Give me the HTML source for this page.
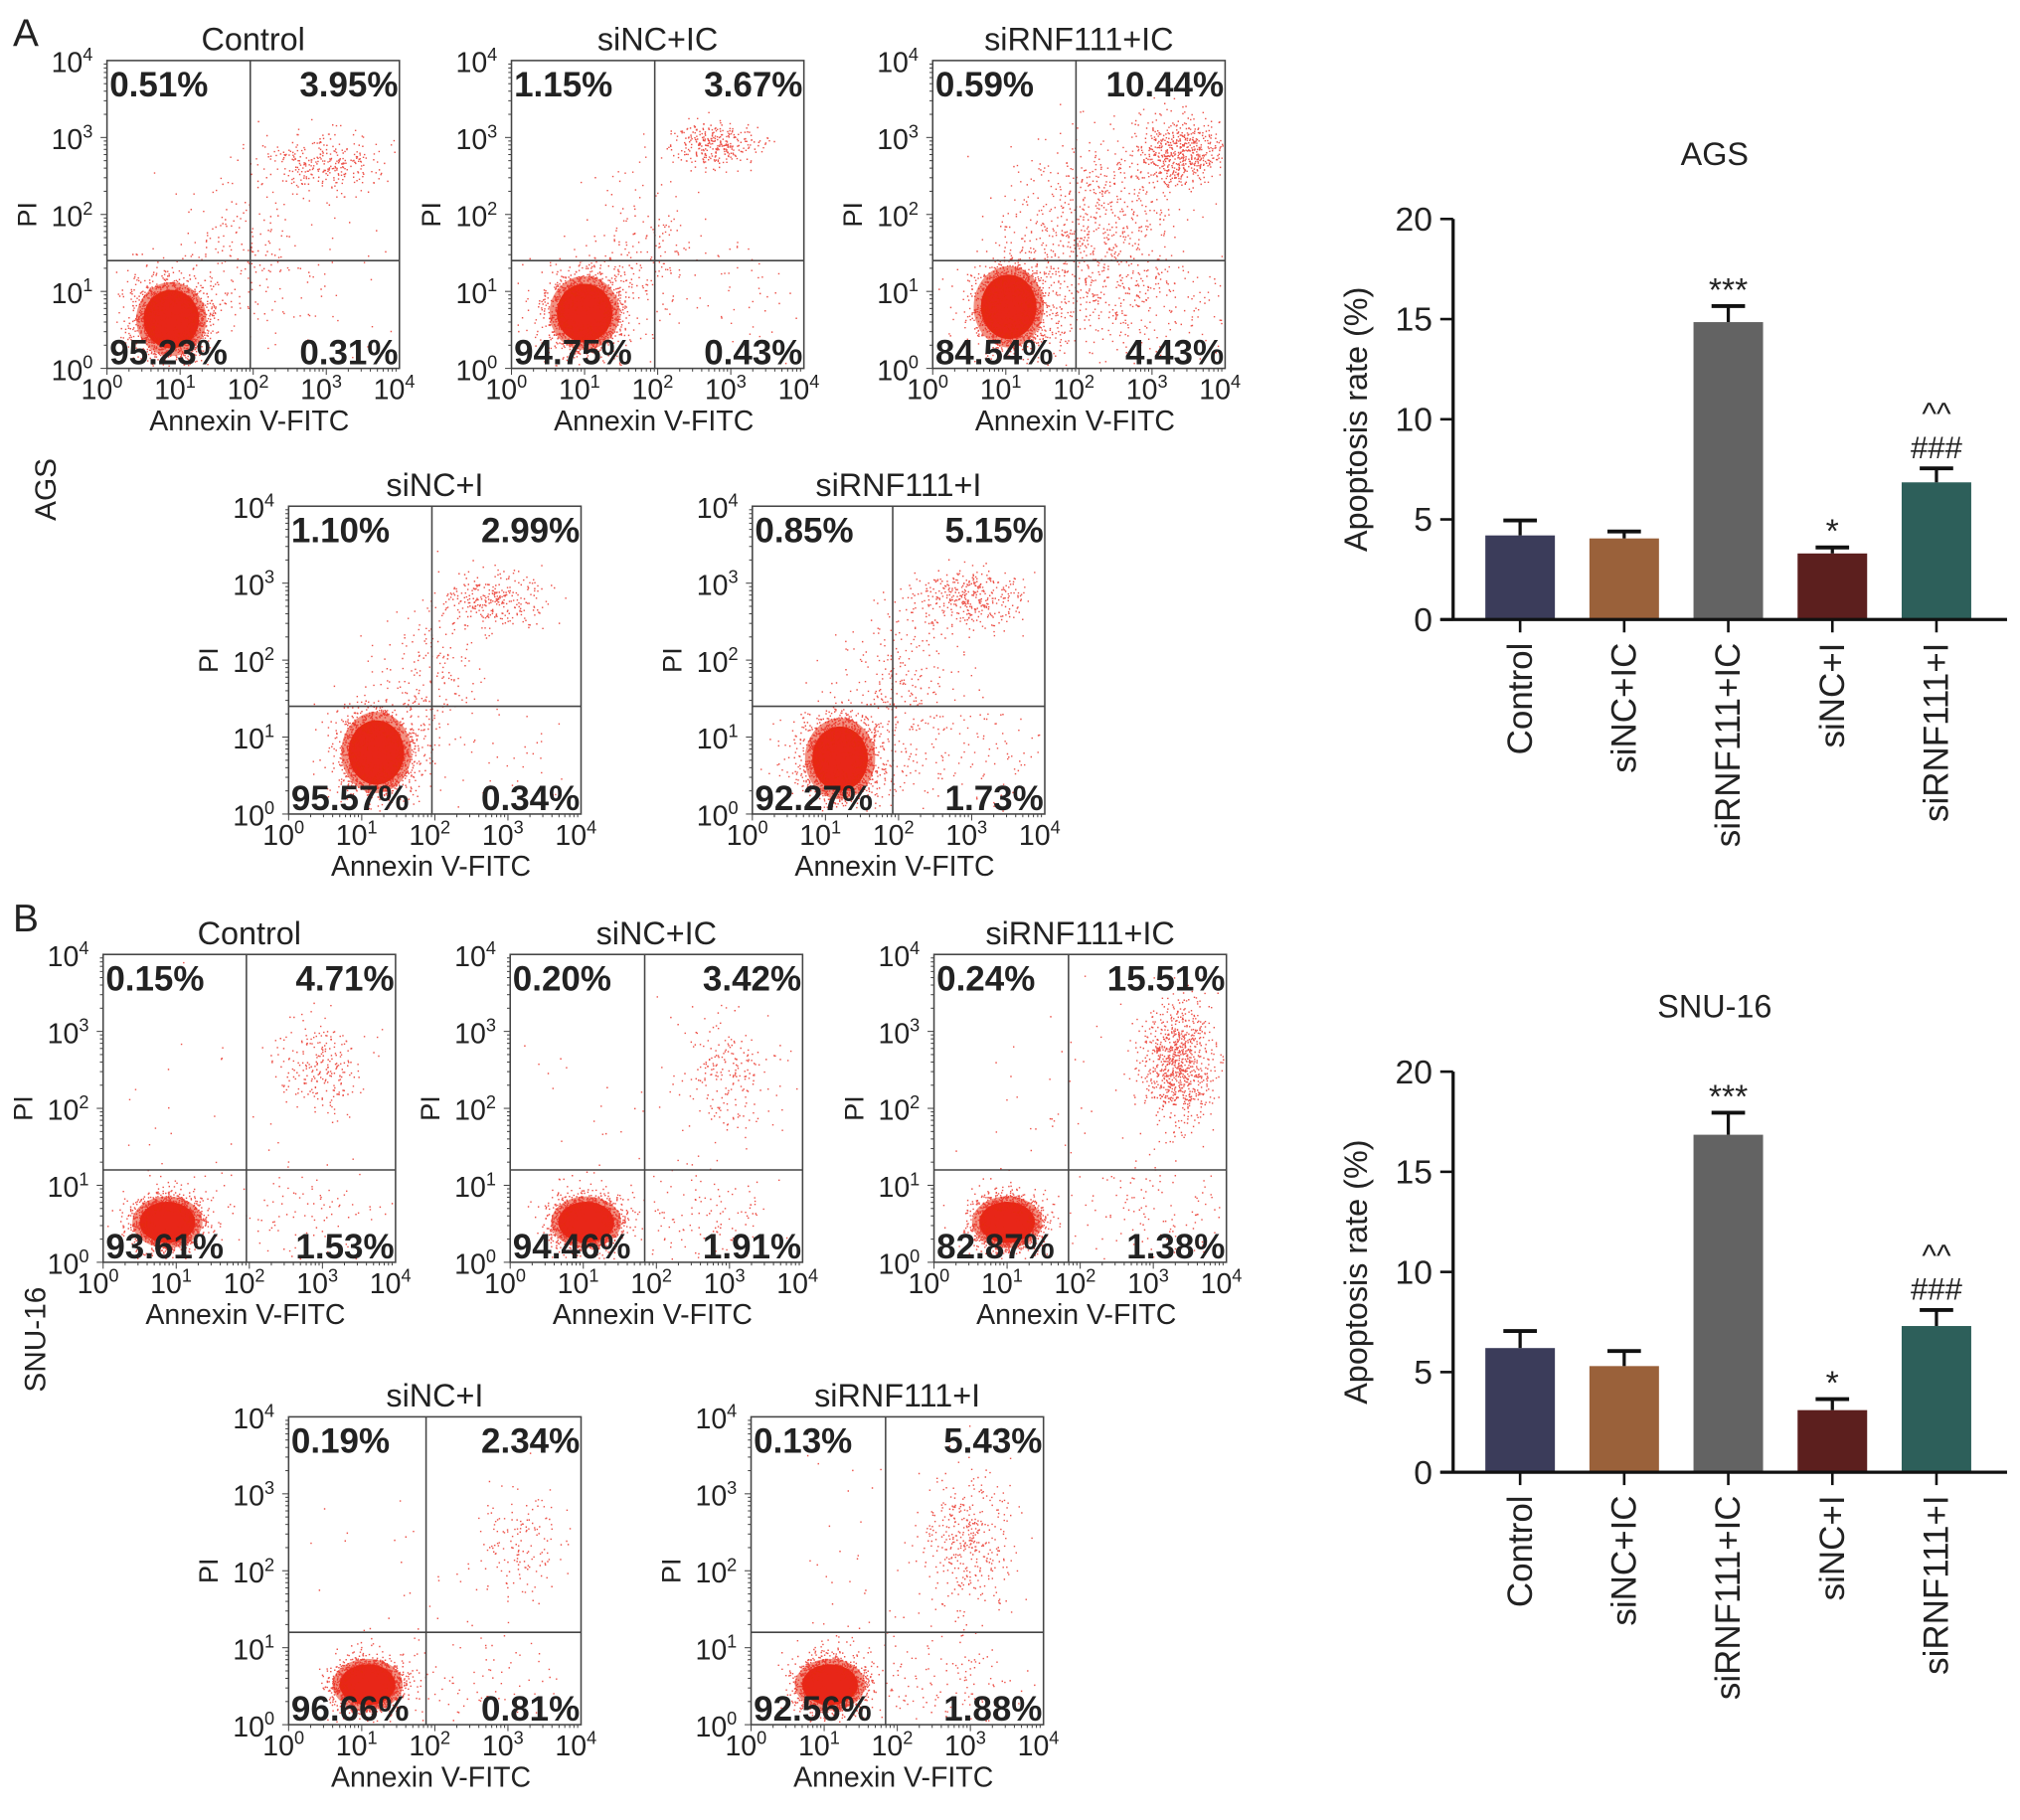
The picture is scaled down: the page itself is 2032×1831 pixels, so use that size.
<!DOCTYPE html>
<html><head><meta charset="utf-8"><style>
html,body{margin:0;padding:0;background:#fff}
svg{display:block}
text{font-family:"Liberation Sans",Arial,sans-serif;fill:#222}
</style></head><body>
<svg id="fig" width="2032" height="1831" viewBox="0 0 1568 1413" xmlns="http://www.w3.org/2000/svg">
<text x="10" y="36" font-size="30">A</text>
<text x="10" y="723" font-size="30">B</text>
<text transform="translate(43,380) rotate(-90)" font-size="23" text-anchor="middle">AGS</text>
<text transform="translate(35,1040) rotate(-90)" font-size="23" text-anchor="middle">SNU-16</text>
<g id="flow"></g>
<g id="bars"></g>
</svg>
<script>
// ---- Bar chart data ----
const categories = ["Control","siNC+IC","siRNF111+IC","siNC+I","siRNF111+I"];
const agsValues = [4.2, 4.05, 14.85, 3.3, 6.85];
const agsErrors = [0.75, 0.35, 0.8, 0.3, 0.7];
const snuValues = [6.2, 5.3, 16.85, 3.1, 7.3];
const snuErrors = [0.85, 0.75, 1.1, 0.55, 0.8];
const sigLabels = [[],[],["***"],["*"],["###","^^"]];
const yTicks = [0,5,10,15,20];
const barColors = ["#3b3c5a","#9a613a","#636363","#5c1f1e","#2d5f5a"];

// ---- Flow data ----
const flowTitles = ["Control","siNC+IC","siRNF111+IC","siNC+I","siRNF111+I"];
const agsPcts = [["0.51%","3.95%","95.23%","0.31%"],["1.15%","3.67%","94.75%","0.43%"],["0.59%","10.44%","84.54%","4.43%"],["1.10%","2.99%","95.57%","0.34%"],["0.85%","5.15%","92.27%","1.73%"]];
const snuPcts = [["0.15%","4.71%","93.61%","1.53%"],["0.20%","3.42%","94.46%","1.91%"],["0.24%","15.51%","82.87%","1.38%"],["0.19%","2.34%","96.66%","0.81%"],["0.13%","5.43%","92.56%","1.88%"]];

const NS="http://www.w3.org/2000/svg";
function mk(tag,attrs,parent){const e=document.createElementNS(NS,tag);for(const k in attrs)e.setAttribute(k,attrs[k]);parent.appendChild(e);return e;}
let seed=12345;
function rnd(){seed=(seed*1103515245+12345)%2147483648;return seed/2147483648;}
function gauss(){let u=rnd()||1e-6,v=rnd();return Math.sqrt(-2*Math.log(u))*Math.cos(2*Math.PI*v);}

const flowG=document.getElementById('flow');
function panel(x,y,title,vq,hq,pcts,clusters,i,prefix){
  const w=227,h=239;
  const g=mk('g',{},flowG);
  
  
  const t=mk('text',{x:x+w/2,y:y-8,'font-size':25,'text-anchor':'middle'},g);t.textContent=title;
  
  
  const dots=mk('g',{fill:'#e8261a'},g);
  
  
  const m=clusters[0];
  mk('ellipse',{cx:x+m[0]*w,cy:y+m[1]*h,rx:m[2]*w*2.4,ry:m[3]*h*2.4,fill:'#e8361c','fill-opacity':0.55},dots);
  mk('ellipse',{cx:x+m[0]*w,cy:y+m[1]*h,rx:m[2]*w*1.9,ry:m[3]*h*1.9,fill:'#e62a10'},dots);
  let s='';
  clusters.forEach(c=>{
    for(let k=0;k<c[4];k++){
      let px=c[0]+gauss()*c[2], py=c[1]+gauss()*c[3];
      if(px<0.01||px>0.99||py<0.01||py>0.99)continue;
      s+=`M${(x+px*w).toFixed(1)} ${(y+py*h).toFixed(1)}h1.1v1.1h-1.1z`;
    }
  });
  mk('path',{d:s,'fill-opacity':0.8},dots);
  const b=mk('rect',{x:x,y:y,width:w,height:h,fill:'none',stroke:'#444','stroke-width':1.2},g);
  
  
  mk('line',{x1:x+vq*w,x2:x+vq*w,y1:y,y2:y+h,stroke:'#444','stroke-width':1.2},g);
  mk('line',{x1:x,x2:x+w,y1:y+hq*h,y2:y+hq*h,stroke:'#444','stroke-width':1.2},g);
  for(let d=0;d<4;d++){for(let m2=1;m2<=9;m2++){
    const f=(d+Math.log10(m2))/4;
    const L=m2===1?5:2.5;
    mk('line',{x1:x+f*w,x2:x+f*w,y1:y+h,y2:y+h+L,stroke:'#444','stroke-width':0.8},g);
    mk('line',{x1:x,x2:x-L,y1:y+h-f*h,y2:y+h-f*h,stroke:'#444','stroke-width':0.8},g);
  }}
  for(let d=0;d<=4;d++){
    const tx=mk('text',{x:x+d/4*w-4,y:y+h+24,'font-size':22,'text-anchor':'middle'},g);
    tx.innerHTML='10<tspan dy="-9" font-size="14">'+d+'</tspan>';
    const ty=mk('text',{x:x-11,y:y+h-d/4*h+9,'font-size':22,'text-anchor':'end'},g);
    ty.innerHTML='10<tspan dy="-9" font-size="14">'+d+'</tspan>';
  }
  const xl=mk('text',{x:x+w/2-3,y:y+h+48,'font-size':22,'text-anchor':'middle'},g);xl.textContent='Annexin V-FITC';
  
  
  const yl=mk('text',{transform:`translate(${x-55},${y+h/2}) rotate(-90)`,'font-size':21,'text-anchor':'middle'},g);yl.textContent='PI';
  
  
  const pos=[[x+2,y+28,'start'],[x+w-1,y+28,'end'],[x+2,y+h-3,'start'],[x+w-1,y+h-3,'end']];
  pos.forEach((p,k)=>{const q=mk('text',{x:p[0],y:p[1],'font-size':27,'font-weight':'bold','text-anchor':p[2]},g);q.textContent=pcts[k];
    
    });
}
const agsPos=[[83,47],[397,47],[724,47],[224,393],[584,393]];
const snuPos=[[80,741],[396,741],[725,741],[224,1100],[583,1100]];
const agsV=[0.49,0.49,0.49,0.49,0.48], agsH=[0.65,0.65,0.65,0.65,0.65];
const snuV=[0.49,0.46,0.46,0.47,0.46], snuH=[0.7,0.7,0.7,0.7,0.7];
const agsClusters=[
 [[0.22,0.84,0.05,0.05,2600],[0.22,0.84,0.09,0.09,500],[0.45,0.6,0.12,0.12,180],[0.74,0.33,0.1,0.05,320],[0.75,0.75,0.15,0.1,40]],
 [[0.25,0.82,0.05,0.05,2600],[0.25,0.82,0.09,0.09,500],[0.45,0.6,0.1,0.12,180],[0.7,0.27,0.08,0.035,320],[0.75,0.75,0.15,0.1,50]],
 [[0.26,0.8,0.05,0.055,2300],[0.3,0.78,0.1,0.1,500],[0.55,0.55,0.13,0.16,700],[0.84,0.3,0.08,0.06,600],[0.75,0.8,0.15,0.1,200]],
 [[0.3,0.8,0.05,0.055,2600],[0.3,0.8,0.09,0.09,500],[0.5,0.55,0.1,0.12,180],[0.7,0.3,0.09,0.045,300],[0.75,0.8,0.15,0.1,40]],
 [[0.3,0.82,0.05,0.055,2600],[0.3,0.82,0.09,0.09,600],[0.5,0.55,0.1,0.13,250],[0.75,0.3,0.09,0.05,380],[0.75,0.8,0.15,0.1,120]]];
const snuClusters=[
 [[0.22,0.87,0.05,0.035,2500],[0.22,0.87,0.07,0.06,400],[0.74,0.35,0.07,0.08,250],[0.65,0.85,0.15,0.1,120],[0.35,0.5,0.15,0.2,25]],
 [[0.26,0.87,0.05,0.035,2500],[0.26,0.87,0.07,0.06,400],[0.74,0.38,0.08,0.09,220],[0.65,0.85,0.15,0.1,150],[0.35,0.5,0.15,0.2,25]],
 [[0.25,0.87,0.05,0.035,2500],[0.25,0.87,0.07,0.06,400],[0.83,0.35,0.06,0.1,900],[0.75,0.85,0.12,0.1,120],[0.45,0.5,0.15,0.2,40]],
 [[0.27,0.87,0.05,0.035,2500],[0.27,0.87,0.07,0.06,400],[0.78,0.42,0.07,0.1,160],[0.65,0.85,0.15,0.1,90],[0.35,0.5,0.15,0.2,20]],
 [[0.27,0.87,0.05,0.035,2500],[0.27,0.87,0.07,0.06,400],[0.74,0.4,0.08,0.11,400],[0.65,0.85,0.15,0.1,150],[0.35,0.5,0.15,0.2,30]]];
for(let i=0;i<5;i++){
  panel(agsPos[i][0],agsPos[i][1],flowTitles[i],agsV[i],agsH[i],agsPcts[i],agsClusters[i],i,'ags');
  panel(snuPos[i][0],snuPos[i][1],flowTitles[i],snuV[i],snuH[i],snuPcts[i],snuClusters[i],i,'snu');
}

// ---- Bar charts ----
const barsG=document.getElementById('bars');
function barChart(title,vals,errs,y0,prefix){
  const ax=1128, y20=y0-311, xEnd=1558;
  const yS=v=>y0-(v/20)*(y0-y20);
  const xC=i=>1180+i*80.8;
  const g=mk('g',{},barsG);
  
  
  const t=mk('text',{x:1331,y:y20-42,'font-size':25,'text-anchor':'middle'},g);t.textContent=title;
  
  
  vals.forEach((v,i)=>{
    const r=mk('rect',{x:xC(i)-27,y:yS(v),width:54,height:y0-yS(v),fill:barColors[i]},g);
    
    
    const et=yS(v+errs[i]);
    mk('line',{x1:xC(i),x2:xC(i),y1:yS(v),y2:et,stroke:'#111','stroke-width':2.5},g);
    mk('line',{x1:xC(i)-13,x2:xC(i)+13,y1:et,y2:et,stroke:'#111','stroke-width':3},g);
    sigLabels[i].forEach((s,k)=>{
      const star=s[0]==='*';
      const q=mk('text',{x:xC(i),y:star?et+8:et-8-k*26,'font-size':star?26:24,'text-anchor':'middle'},g);
      if(star){q.setAttribute('dy','-12');}
      q.textContent=s;
      
      
    });
    mk('line',{x1:xC(i),x2:xC(i),y1:y0,y2:y0+10,stroke:'#111','stroke-width':2},g);
    const cl=mk('text',{transform:`translate(${xC(i)+9},${y0+18}) rotate(-90)`,'font-size':27,'text-anchor':'end'},g);
    cl.textContent=categories[i];
    
    
  });
  mk('line',{x1:ax,x2:ax,y1:y20,y2:y0,stroke:'#111','stroke-width':2.5},g);
  mk('line',{x1:ax-10,x2:xEnd,y1:y0,y2:y0,stroke:'#111','stroke-width':2.5},g);
  yTicks.forEach(v=>{
    mk('line',{x1:ax-10,x2:ax,y1:yS(v),y2:yS(v),stroke:'#111','stroke-width':2},g);
    const l=mk('text',{x:ax-16,y:yS(v)+9,'font-size':26,'text-anchor':'end'},g);l.textContent=v;
    
    
  });
  const yl=mk('text',{transform:`translate(1061,${(y0+y20)/2}) rotate(-90)`,'font-size':25,'text-anchor':'middle'},g);
  yl.textContent='Apoptosis rate (%)';
  
  
}
barChart('AGS',agsValues,agsErrors,481,'ags');
barChart('SNU-16',snuValues,snuErrors,1143,'snu');
</script>
</body></html>
